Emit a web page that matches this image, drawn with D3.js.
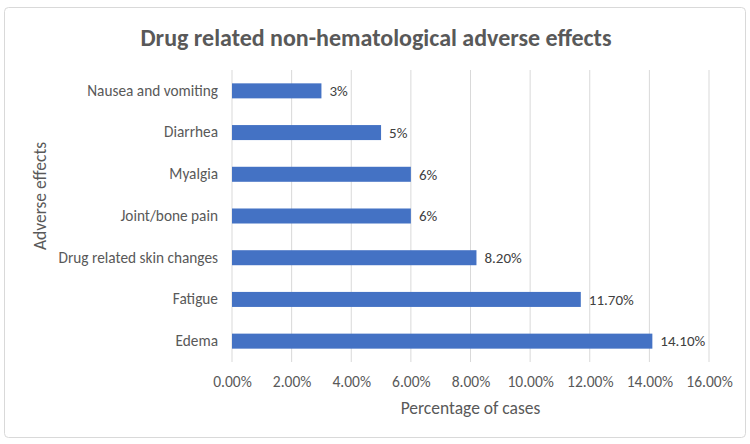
<!DOCTYPE html>
<html>
<head>
  <script src="https://d3js.org/d3.v7.min.js"></script>
  <style>
    html, body {
      margin: 0px;
      padding: 0px;
      background: #fff;
      font-family: Carlito, Calibri, "Open Sans", "Liberation Sans", sans-serif;
    }
    .tick text { fill: #595959; }
  </style>
</head>
<body>
  <div id="chart"></div>
  <script>
    // data (top to bottom)
    const categories = ["Nausea and vomiting", "Diarrhea", "Myalgia", "Joint/bone pain",
      "Drug related skin changes", "Fatigue", "Edema"];
    const values = [3, 5, 6, 6, 8.2, 11.7, 14.1];
    const valueLabels = ["3%", "5%", "6%", "6%", "8.20%", "11.70%", "14.10%"];
    const xTicks = [0, 2, 4, 6, 8, 10, 12, 14, 16];

    const width = 750, height = 444;
    const margin = {top: 70, left: 232, right: 41, bottom: 82};

    const svg = d3.select("#chart").append("svg")
      .attr("width", width)
      .attr("height", height);

    // chart frame
    svg.append("rect")
      .attr("x", 4.5).attr("y", 7.5)
      .attr("width", 741).attr("height", 430)
      .attr("rx", 4)
      .attr("fill", "#fff")
      .attr("stroke", "#d9d9d9");

    const xScale = d3.scaleLinear()
      .domain([0, 16])
      .range([margin.left, width - margin.right]);

    const yScale = d3.scaleBand()
      .domain(categories)
      .range([margin.top, height - margin.bottom])
      .paddingInner(0.64)
      .paddingOuter(0.32);

    // gridlines
    svg.append("g")
      .selectAll("line")
      .data(xTicks)
      .join("line")
        .attr("x1", d => xScale(d))
        .attr("x2", d => xScale(d))
        .attr("y1", margin.top)
        .attr("y2", height - margin.bottom)
        .attr("stroke", "#d9d9d9")
        .attr("stroke-width", 1);

    // x axis (labels only)
    const xAxis = svg.append("g")
      .attr("transform", `translate(0,${height - margin.bottom})`)
      .call(d3.axisBottom(xScale).tickValues(xTicks)
        .tickFormat(d => d.toFixed(2) + "%").tickSize(0).tickPadding(14));
    xAxis.select(".domain").remove();
    xAxis.selectAll("text")
      .attr("font-size", 15.5)
      .attr("font-family", "Carlito, Calibri, 'Open Sans', sans-serif");

    // y axis (labels only)
    const yAxis = svg.append("g")
      .attr("transform", `translate(${margin.left},0)`)
      .call(d3.axisLeft(yScale).tickSize(0).tickPadding(14));
    yAxis.select(".domain").remove();
    yAxis.selectAll("text")
      .attr("font-size", 15.3)
      .attr("font-family", "Carlito, Calibri, 'Open Sans', sans-serif");

    // bars
    svg.append("g")
      .selectAll("rect")
      .data(values)
      .join("rect")
        .attr("x", xScale(0))
        .attr("y", (d, i) => yScale(categories[i]))
        .attr("width", d => xScale(d) - xScale(0))
        .attr("height", yScale.bandwidth())
        .attr("fill", "#4472c4");

    // value labels
    svg.append("g")
      .selectAll("text")
      .data(values)
      .join("text")
        .attr("x", d => xScale(d) + 8)
        .attr("y", (d, i) => yScale(categories[i]) + yScale.bandwidth() / 2)
        .attr("dy", "0.35em")
        .attr("font-size", 15)
        .attr("fill", "#404040")
        .text((d, i) => valueLabels[i]);

    // title
    svg.append("text")
      .attr("x", 376)
      .attr("y", 46)
      .attr("text-anchor", "middle")
      .attr("font-size", 24)
      .attr("font-weight", "bold")
      .attr("fill", "#595959")
      .text("Drug related non-hematological adverse effects");

    // axis titles
    svg.append("text")
      .attr("x", (xScale(0) + xScale(16)) / 2)
      .attr("y", 414)
      .attr("text-anchor", "middle")
      .attr("font-size", 17.5)
      .attr("fill", "#595959")
      .text("Percentage of cases");

    svg.append("text")
      .attr("transform", "rotate(-90)")
      .attr("x", -196)
      .attr("y", 46)
      .attr("text-anchor", "middle")
      .attr("font-size", 17.5)
      .attr("fill", "#595959")
      .text("Adverse effects");
  </script>
</body>
</html>
